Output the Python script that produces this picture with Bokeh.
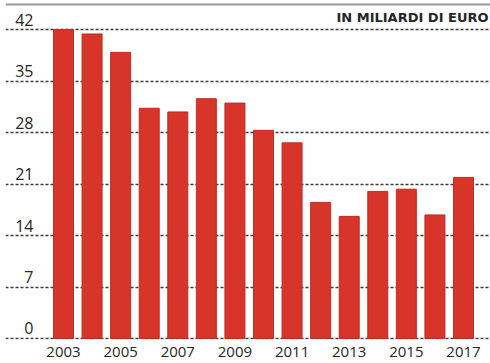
from bokeh.plotting import figure
from bokeh.models import ColumnDataSource, FixedTicker, Range1d, Span, Label
from bokeh.embed import file_html
from bokeh.resources import INLINE

years = [2003, 2004, 2005, 2006, 2007, 2008, 2009, 2010, 2011, 2012, 2013, 2014, 2015, 2016, 2017]
values = [42.0, 41.4, 38.9, 31.3, 30.8, 32.6, 32.0, 28.3, 26.6, 18.5, 16.6, 20.0, 20.3, 16.8, 21.9]
y_ticks = [0, 7, 14, 21, 28, 35, 42]
x_ticks = [2003, 2005, 2007, 2009, 2011, 2013, 2015, 2017]
unit_label = "IN MILIARDI DI EURO"

FONT = "Open Sans"
TXT = "#262626"

p = figure(width=490, height=363, output_backend="svg", toolbar_location=None,
           x_range=Range1d(2000.97, 2017.945), y_range=Range1d(-0.136, 45.95),
           min_border_left=5, min_border_right=0, min_border_top=0, min_border_bottom=24)
p.outline_line_color = None
p.background_fill_color = "white"
p.border_fill_color = "white"
p.yaxis.visible = False

p.xgrid.grid_line_color = None
p.ygrid.ticker = FixedTicker(ticks=y_ticks)
p.ygrid.grid_line_color = "#3a3a3a"
p.ygrid.grid_line_dash = "3 2"
p.ygrid.grid_line_width = 1.4

src = ColumnDataSource(dict(x=years, top=values))
p.vbar(x="x", top="top", bottom=0, width=0.7, source=src,
       fill_color="#d8352a", line_color="#bf2c20", line_width=1)

p.xaxis.ticker = FixedTicker(ticks=x_ticks)
p.xaxis.axis_line_color = None
p.xaxis.major_tick_line_color = None
p.xaxis.minor_tick_line_color = None
p.xaxis.major_label_standoff = 1
p.xaxis.major_label_text_font = FONT
p.xaxis.major_label_text_font_size = "15px"
p.xaxis.major_label_text_color = TXT

ysrc = ColumnDataSource(dict(y=y_ticks, t=[str(v) for v in y_ticks],
                             x=[p.x_range.start] * len(y_ticks)))
p.text(x="x", y="y", text="t", source=ysrc, x_offset=28, y_offset=-4,
       text_align="right", text_baseline="bottom",
       text_font={"value": FONT}, text_font_size="16px", text_color=TXT)

p.add_layout(Label(x=p.x_range.end, y=y_ticks[-1], text=unit_label, x_offset=-2, y_offset=5,
                   text_align="right", text_baseline="bottom", text_font="DejaVu Sans",
                   text_font_style="bold", text_font_size="13px", text_color=TXT))

p.add_layout(Span(location=45.41, dimension="width", line_color="#999999", line_width=2))

open("out.html", "w").write(file_html(p, INLINE))
